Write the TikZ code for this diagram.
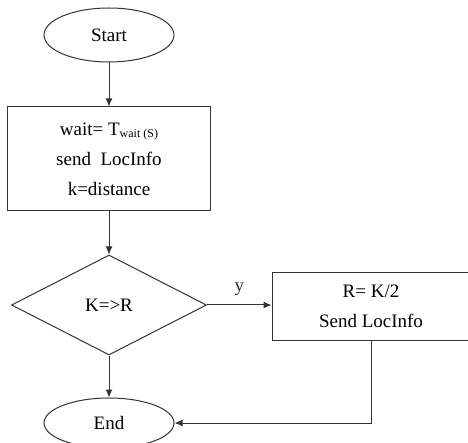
\documentclass[tikz,border=0pt]{standalone}
\usepackage{fontspec}
\setmainfont{Liberation Serif}
\usetikzlibrary{shapes.geometric,arrows.meta}

\begin{document}
\begin{tikzpicture}[x=1pt, y=-1pt,
    every node/.style={font=\fontsize{19}{30}\selectfont},
    box/.style={draw=black!80, line width=1pt},
    term/.style={box, ellipse, minimum width=130pt, minimum height=54pt, inner sep=0pt},
    proc/.style={box, rectangle, align=center, inner sep=0pt},
    cond/.style={box, diamond, minimum width=195pt, minimum height=100pt, inner sep=0pt}]

    \useasboundingbox (0,0) rectangle (468,443);

    \node[term] (start) at (109,35) {Start};
    \node[proc, minimum width=203pt, minimum height=104pt] (wait) at (109,159)
        {wait= T{\fontsize{12}{12}\selectfont\raisebox{-0.35ex}{wait (S)}}\\ send\ \ LocInfo\\ k=distance};
    \node[cond] (check) at (109,305) {K=>R};
    \node[proc, minimum width=198pt, minimum height=67pt] (half) at (371,306.5)
        {R= K/2\\ Send LocInfo};
    \node[term, minimum height=50pt] (end) at (109,423) {End};

    \begin{scope}[>={Latex[length=8pt,width=7pt]}, line width=1pt, black!80]
        \draw [->] (start.south) -- (wait.north);
        \draw [->] (wait.south) -- (check.north);
        \draw [->] (check.east) -- node[above=6pt] {y} (check.east -| half.west);
        \draw [->] (check.south) -- (end.north);
        \draw [->] (half.south) |- (end.east);
    \end{scope}

\end{tikzpicture}
\end{document}
